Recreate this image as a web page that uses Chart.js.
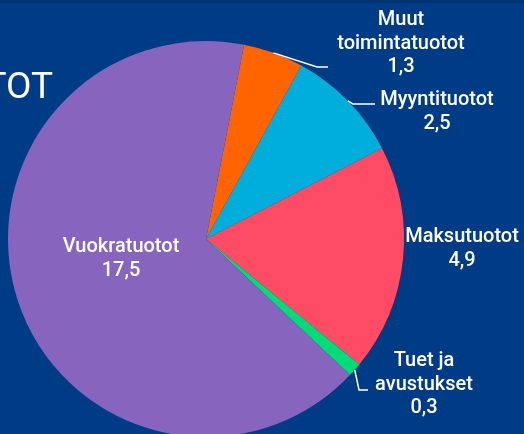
<!DOCTYPE html>
<html>
<head>
<meta charset="utf-8">
<script src="https://cdn.jsdelivr.net/npm/chart.js@4"></script>
<style>
  html, body { margin: 0; padding: 0; overflow: hidden; background: #003C86; }
  #wrap { width: 524px; height: 440px; }
</style>
</head>
<body>
<div id="wrap"><canvas id="pie" width="524" height="440"></canvas></div>
<script>
// data
const categories = ['Muut\ntoimintatuotot', 'Myyntituotot', 'Maksutuotot', 'Tuet ja\navustukset', 'Vuokratuotot'];
const values = [1.3, 2.5, 4.9, 0.3, 17.5];
const colors = ['#FF6400', '#00AEDB', '#FF4B63', '#00DC78', '#8764BE'];
const titleText = 'TUOTOT';

// where each label sits (text centre x, first baseline y, elbow of leader line)
const labelPos = [
  { x: 401, y: 25, elbow: [317, 67], end: 328 },
  { x: 437, y: 105, elbow: [353, 104], end: 375 },
  { x: 462, y: 242 },
  { x: 424, y: 366, elbow: [359, 390], end: 368 },
  { x: 121, y: 252 }
];

const fmt = v => v.toFixed(1).replace('.', ',');

const labelPlugin = {
  id: 'labels',
  beforeDraw(chart) {
    const c = chart.ctx;
    c.save();
    c.fillStyle = '#00336F';
    c.fillRect(0, 0, chart.width, 3);
    c.fillStyle = '#ffffff';
    c.font = '37px Roboto';
    c.textAlign = 'right';
    c.textBaseline = 'alphabetic';
    c.fillText(titleText, 53, 98);
    c.restore();
  },
  afterDraw(chart) {
    const c = chart.ctx;
    const arcs = chart.getDatasetMeta(0).data;
    c.save();
    c.fillStyle = '#ffffff';
    c.strokeStyle = '#ffffff';
    c.lineWidth = 1.5;
    c.font = '500 20px Roboto';
    c.textAlign = 'center';
    c.textBaseline = 'alphabetic';
    arcs.forEach((arc, i) => {
      const p = labelPos[i];
      const lines = categories[i].split('\n').concat([fmt(values[i])]);
      lines.forEach((t, k) => c.fillText(t, p.x, p.y + k * 23.5));
      if (p.elbow) {
        const mid = (arc.startAngle + arc.endAngle) / 2;
        const sx = arc.x + Math.cos(mid) * arc.outerRadius;
        const sy = arc.y + Math.sin(mid) * arc.outerRadius;
        c.beginPath();
        c.moveTo(sx, sy);
        c.lineTo(p.elbow[0], p.elbow[1]);
        c.lineTo(p.end, p.elbow[1]);
        c.stroke();
      }
    });
    c.restore();
  }
};

new Chart(document.getElementById('pie'), {
  type: 'pie',
  data: {
    labels: categories,
    datasets: [{
      data: values,
      backgroundColor: colors,
      borderWidth: 0
    }]
  },
  options: {
    responsive: false,
    animation: false,
    rotation: 11.1,
    layout: { padding: { left: 8, top: 41, right: 120, bottom: 3 } },
    plugins: {
      legend: { display: false },
      tooltip: { enabled: false },
      title: { display: false }
    }
  },
  plugins: [labelPlugin]
});
</script>
</body>
</html>
